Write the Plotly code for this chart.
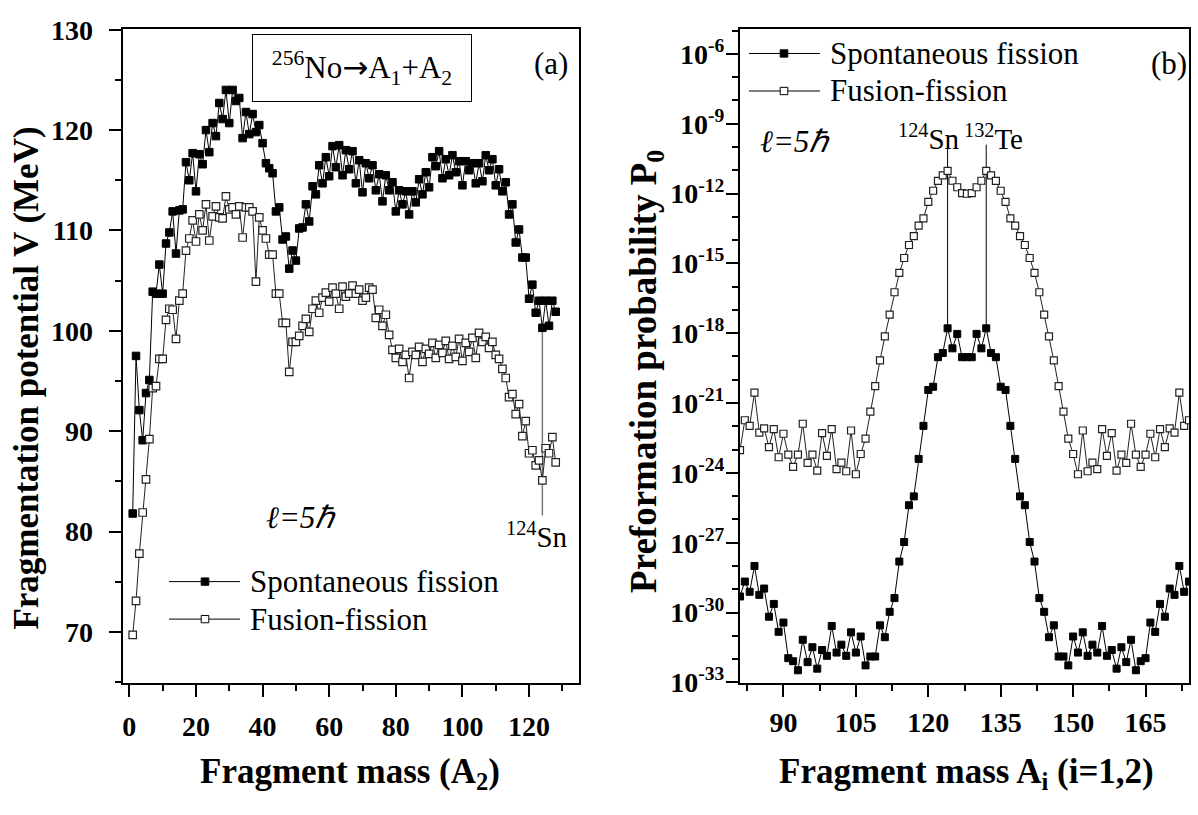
import plotly.graph_objects as go

W, H = 1198, 815


def px(x):
    return x / W


def py(y):
    return 1 - y / H


# ---------------- data: panel (a) ----------------
A2 = list(range(1, 129))
V_sf = [81.8, 97.5, 92.1, 89.1, 93.8, 95.1, 103.9, 103.7, 106.6, 103.7,
        108.7, 109.8, 111.9, 107.7, 112.0, 112.1, 116.8, 115.0, 117.7, 113.9,
        117.6, 116.6, 120.0, 117.8, 120.7, 119.4, 122.7, 121.1, 124.0, 120.7,
        124.0, 122.9, 123.2, 119.2, 121.8, 119.6, 121.6, 119.8, 120.5, 118.7,
        116.7, 116.2, 115.7, 111.9, 112.3, 109.1, 109.4, 106.2, 108.0, 107.0,
        110.2, 110.3, 112.6, 110.9, 114.4, 113.6, 116.5, 114.7, 117.3, 115.4,
        118.4, 116.3, 118.5, 115.5, 118.0, 116.1, 117.9, 114.7, 117.0, 113.8,
        116.7, 115.2, 116.5, 114.0, 115.6, 112.9, 115.5, 114.0, 114.8, 111.9,
        114.0, 112.6, 113.9, 111.6, 113.9, 112.8, 115.1, 113.6, 115.8, 114.3,
        117.3, 116.4, 117.9, 115.2, 117.1, 115.5, 117.5, 115.8, 116.9, 114.5,
        116.9, 116.0, 116.7, 114.7, 116.7, 114.9, 117.5, 116.0, 117.1, 114.5,
        116.1, 113.9, 114.8, 111.6, 112.6, 108.8, 110.1, 107.3, 107.3, 103.2,
        104.6, 101.8, 103.0, 100.3, 103.0, 100.5, 103.0, 101.9]
V_ff = [69.7, 73.1, 77.8, 81.9, 85.2, 89.2, 94.3, 94.5, 97.2, 97.2,
        101.1, 102.2, 102.1, 99.2, 103.0, 103.7, 108.0, 109.2, 111.0, 108.9,
        111.6, 110.0, 112.6, 109.0, 111.4, 112.4, 111.3, 111.2, 113.4, 112.1,
        112.3, 111.6, 112.4, 109.3, 112.3, 112.3, 111.9, 104.9, 111.3, 110.0,
        109.2, 107.6, 107.6, 103.7, 103.7, 100.8, 100.8, 95.9, 98.9, 98.9,
        99.5, 100.5, 101.2, 99.9, 102.2, 103.0, 101.8, 103.3, 103.8, 102.9,
        104.3, 103.7, 102.2, 104.4, 103.4, 103.7, 104.5, 103.7, 104.1, 103.0,
        103.3, 104.3, 104.1, 101.3, 102.1, 100.5, 101.6, 99.6, 98.1, 97.3,
        98.2, 96.9, 97.6, 95.3, 97.9, 97.6, 98.4, 96.9, 98.2, 97.7,
        98.8, 97.3, 98.6, 97.8, 99.0, 97.2, 98.5, 97.4, 99.2, 97.0,
        98.8, 97.9, 99.3, 97.3, 99.8, 98.9, 99.4, 98.3, 98.9, 97.6,
        97.2, 96.2, 95.3, 93.4, 93.7, 91.7, 92.7, 89.5, 91.0, 87.8,
        88.1, 86.6, 87.1, 85.1, 88.3, 87.8, 89.4, 86.9]
x_ticks_a = [0, 20, 40, 60, 80, 100, 120]
y_ticks_a = [70, 80, 90, 100, 110, 120, 130]
sn_line_a_x = [124, 124]
sn_line_a_y = [100.3, 81.6]

# ---------------- data: panel (b) (log10 of P0) ----------------
A_i = list(range(81, 176))
log10P_sf = [-29.31, -28.67, -29.11, -28.00, -29.24, -28.97, -30.18, -29.63, -30.83, -30.43,
             -31.96, -32.09, -32.48, -31.17, -32.13, -31.49, -32.41, -31.61, -31.86, -30.58,
             -31.72, -31.38, -31.86, -30.85, -31.72, -31.03, -32.27, -31.89, -31.89, -30.55,
             -31.06, -29.97, -29.38, -27.81, -26.97, -25.39, -25.01, -23.40, -21.98, -20.44,
             -20.30, -19.03, -18.85, -17.79, -18.65, -18.03, -19.03, -19.03,
             -19.03, -18.03, -18.65, -17.79, -18.85, -19.03, -20.30,
             -20.44, -21.98, -23.40, -25.01, -25.39, -26.97, -27.81, -29.38, -29.97, -31.06,
             -30.55, -31.89, -31.89, -32.27, -31.03, -31.72, -30.85, -31.86, -31.38, -31.72,
             -30.58, -31.86, -31.61, -32.41, -31.49, -32.13, -31.17, -32.48, -32.09, -31.96,
             -30.43, -30.83, -29.63, -30.18, -28.97, -29.24, -28.00, -29.11, -28.67, -29.31]
log10P_ff = [-23.02, -21.74, -21.98, -20.55, -22.27, -22.09, -22.89, -22.12, -23.33, -22.32,
             -23.22, -23.74, -23.22, -21.89, -23.57, -23.22, -23.90, -22.29, -23.27, -22.12,
             -23.84, -23.56, -23.93, -22.18, -24.06, -23.19, -22.53, -21.37, -20.27, -19.17,
             -18.14, -17.20, -16.24, -15.41, -14.77, -14.21, -13.83, -13.38, -13.07, -12.36,
             -11.88, -11.46, -11.22, -11.03, -11.45, -11.73, -11.98, -12.01,
             -11.98, -11.73, -11.45, -11.03, -11.22, -11.46, -11.88,
             -12.36, -13.07, -13.38, -13.83, -14.21, -14.77, -15.41, -16.24, -17.20, -18.14,
             -19.17, -20.27, -21.37, -22.53, -23.19, -24.06, -22.18, -23.93, -23.56, -23.84,
             -22.12, -23.27, -22.29, -23.90, -23.22, -23.57, -21.89, -23.22, -23.74, -23.22,
             -22.32, -23.33, -22.12, -22.89, -22.09, -22.27, -20.55, -21.98, -21.74, -23.02]
P_sf = [10 ** v for v in log10P_sf]
P_ff = [10 ** v for v in log10P_ff]
x_ticks_b = [90, 105, 120, 135, 150, 165]
y_exps_b = [-6, -9, -12, -15, -18, -21, -24, -27, -30, -33]
y_ticktext_b = ["10<sup>%d</sup>" % e for e in y_exps_b]
sn_line_b_x = [124, 124]
sn_line_b_y = [10 ** -17.79, 10 ** -9.9]
te_line_b_x = [132, 132]
te_line_b_y = [10 ** -17.79, 10 ** -9.9]

FONT = "Liberation Serif"
MS = 7.5
mk_sf = dict(symbol="square", size=MS, color="black", line=dict(color="black", width=1))
mk_ff = dict(symbol="square", size=MS, color="white", line=dict(color="#222222", width=1.2))

fig = go.Figure()
# panel (a)
fig.add_trace(go.Scatter(x=sn_line_a_x, y=sn_line_a_y, mode="lines",
                         line=dict(color="#7a7a7a", width=1.5), xaxis="x", yaxis="y",
                         showlegend=False, hoverinfo="skip"))
fig.add_trace(go.Scatter(x=A2, y=V_sf, mode="lines+markers", line=dict(color="black", width=1),
                         marker=mk_sf, xaxis="x", yaxis="y", showlegend=False))
fig.add_trace(go.Scatter(x=A2, y=V_ff, mode="lines+markers", line=dict(color="#222222", width=1),
                         marker=mk_ff, xaxis="x", yaxis="y", showlegend=False))
# panel (b)
for lx, ly in ((sn_line_b_x, sn_line_b_y), (te_line_b_x, te_line_b_y)):
    fig.add_trace(go.Scatter(x=lx, y=ly, mode="lines", line=dict(color="black", width=1),
                             xaxis="x2", yaxis="y2", showlegend=False, hoverinfo="skip"))
fig.add_trace(go.Scatter(x=A_i, y=P_sf, mode="lines+markers", line=dict(color="black", width=1),
                         marker=dict(mk_sf, size=7), xaxis="x2", yaxis="y2", showlegend=False))
fig.add_trace(go.Scatter(x=A_i, y=P_ff, mode="lines+markers", line=dict(color="#222222", width=1),
                         marker=dict(mk_ff, size=7), xaxis="x2", yaxis="y2", showlegend=False))

tickfont = dict(family=FONT, size=28, color="black", weight="bold")
axis_common = dict(showline=True, linecolor="black", linewidth=2, mirror=True,
                   ticks="outside", ticklen=12, tickwidth=2, tickcolor="black",
                   showgrid=False, zeroline=False, tickfont=tickfont)

fig.update_layout(
    width=W, height=H, margin=dict(l=0, r=0, t=0, b=0),
    paper_bgcolor="white", plot_bgcolor="white", showlegend=False,
    font=dict(family=FONT, color="black"),
    xaxis=dict(axis_common, domain=[px(122.7), px(579)], range=[-2, 135], anchor="y",
               tickmode="array", tickvals=x_ticks_a, ticklabelstandoff=6,
               minor=dict(ticks="outside", ticklen=6, tickwidth=2, tickcolor="black", dtick=10, tick0=0)),
    yaxis=dict(axis_common, domain=[py(694), py(15)], range=[64.95, 130.03], anchor="x",
               tickmode="array", tickvals=y_ticks_a, ticklabelstandoff=10,
               minor=dict(ticks="outside", ticklen=6, tickwidth=2, tickcolor="black", dtick=5, tick0=0)),
    xaxis2=dict(axis_common, domain=[px(740), px(1189)], range=[81, 174], anchor="y2",
                tickmode="array", tickvals=x_ticks_b, ticklabelstandoff=2,
                minor=dict(ticks="outside", ticklen=6, tickwidth=2, tickcolor="black", dtick=7.5, tick0=0)),
    yaxis2=dict(axis_common, domain=[py(694), py(15)], type="log", range=[-33.01, -4.95], anchor="x2",
                tickmode="array", tickvals=[10 ** e for e in y_exps_b], ticktext=y_ticktext_b,
                ticklabelstandoff=-4,
                minor=dict(ticks="outside", ticklen=6, tickwidth=2, tickcolor="black",
                           tickvals=[10 ** -k for k in range(5, 34)])),
)

ann = []
shapes = []


def text(x, y, t, size=31, bold=False, italic=False, angle=0, xanchor="center", **kw):
    f = dict(family=FONT, size=size, color="black",
             weight="bold" if bold else "normal",
             style="italic" if italic else "normal")
    ann.append(dict(x=px(x), y=py(y), xref="paper", yref="paper", text=t, showarrow=False,
                    font=f, textangle=angle, xanchor=xanchor, yanchor="middle", **kw))


# axis titles
text(27, 378, "Fragmentation potential V (MeV)", size=35, bold=True, angle=-90)
text(350, 789, "Fragment mass (A<sub>2</sub>)", size=35, bold=True)
text(647, 370, "Preformation probability P<sub>0</sub>", size=37, bold=True, angle=-90)
text(966, 789, "Fragment mass A<sub>i</sub> (i=1,2)", size=35, bold=True)

# panel (a) decorations
text(362, 55, "<sup>256</sup>No<span style='font-family:DejaVu Sans'>\u2192</span>A<sub>1</sub>+A<sub>2</sub>",
     size=31, bordercolor="black", borderwidth=1, borderpad=0, width=218, height=66)
text(551, 50, "(a)", size=31)
text(301, 522, "\u2113=5\u210f", size=31, italic=True)
text(537, 541, "<sup>124</sup>Sn", size=29)

# panel (b) decorations
text(1169, 50, "(b)", size=31)
text(795, 132, "\u2113=5\u210f", size=31, italic=True)
text(929, 127, "<sup>124</sup>Sn", size=29)
text(993, 127, "<sup>132</sup>Te", size=29)


def legend_item(x0, x1, xm, y, filled, label):
    shapes.append(dict(type="line", xref="paper", yref="paper", x0=px(x0), x1=px(x1),
                       y0=py(y), y1=py(y), line=dict(color="black", width=1)))
    h = 3.8
    shapes.append(dict(type="rect", xref="paper", yref="paper", x0=px(xm - h), x1=px(xm + h),
                       y0=py(y + h), y1=py(y - h), fillcolor="black" if filled else "white",
                       line=dict(color="black", width=1)))
    text(x1 + 8, y, label, size=31, xanchor="left")


legend_item(169, 240, 205, 589, True, "Spontaneous fission")
legend_item(169, 240, 205, 628, False, "Fusion-fission")
legend_item(749, 820, 784, 40, True, "Spontaneous fission")
legend_item(749, 820, 784, 79, False, "Fusion-fission")

fig.update_layout(annotations=ann, shapes=shapes)
fig.write_html("out.html")
